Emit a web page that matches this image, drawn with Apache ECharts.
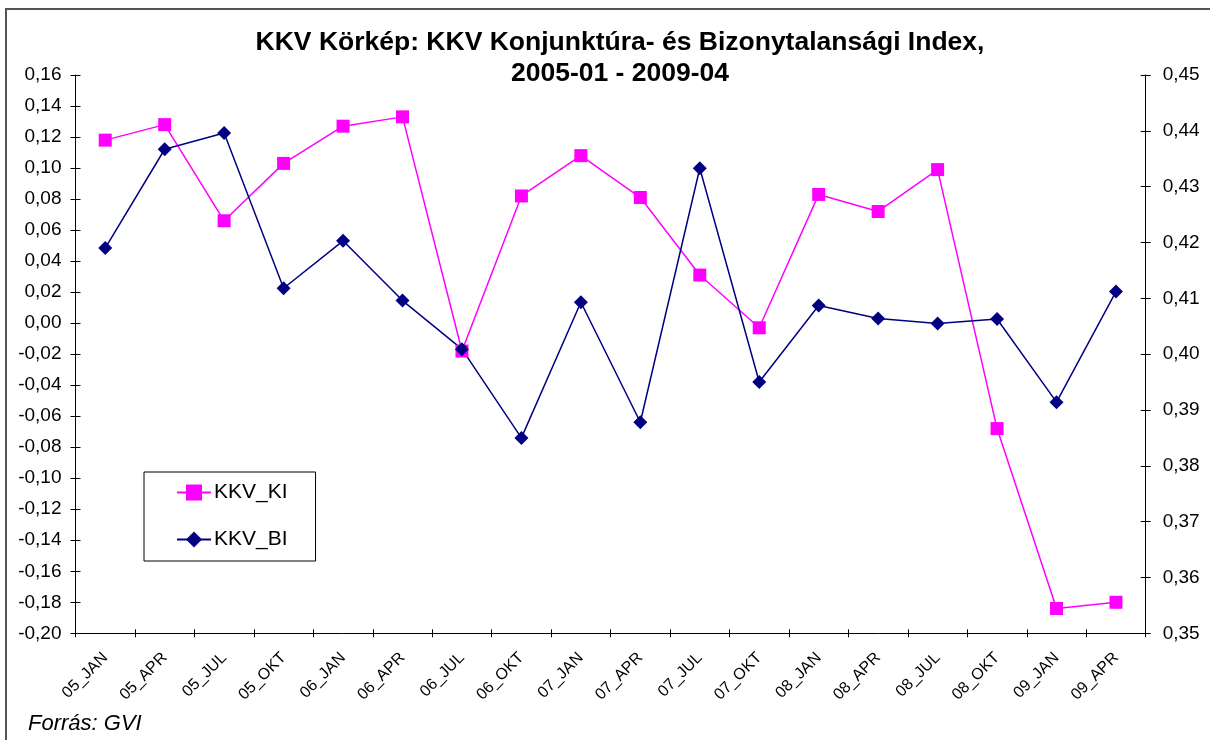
<!DOCTYPE html>
<html>
<head>
<meta charset="utf-8">
<script src="https://cdn.jsdelivr.net/npm/echarts@6/dist/echarts.min.js"></script>
<style>
html,body{margin:0;padding:0;background:#fff;}
#chart{width:1210px;height:740px;}
</style>
</head>
<body>
<div id="chart"></div>
<script>
const categories = ['05_JAN','05_APR','05_JUL','05_OKT','06_JAN','06_APR','06_JUL','06_OKT','07_JAN','07_APR','07_JUL','07_OKT','08_JAN','08_APR','08_JUL','08_OKT','09_JAN','09_APR'];
const kkvKI = [0.118, 0.128, 0.066, 0.103, 0.127, 0.133, -0.018, 0.082, 0.108, 0.081, 0.031, -0.003, 0.083, 0.072, 0.099, -0.068, -0.184, -0.180];
const kkvBI = [0.419, 0.4367, 0.4396, 0.4118, 0.4203, 0.4096, 0.4009, 0.385, 0.4093, 0.3878, 0.4333, 0.395, 0.4087, 0.4064, 0.4055, 0.4063, 0.3914, 0.4112];
const titleLines = ['KKV Körkép: KKV Konjunktúra- és Bizonytalansági Index,', '2005-01 - 2009-04'];
const sourceText = 'Forrás: GVI';

const FONT = 'Liberation Sans, Arial, sans-serif';
const fmt = v => v.toFixed(2).replace('.', ',');
const chart = echarts.init(document.getElementById('chart'), null, {renderer: 'canvas'});
const grid = {left: 75.5, right: 64.3, top: 75, bottom: 106.7};

chart.setOption({
  backgroundColor: '#fff',
  animation: false,
  title: {
    text: titleLines.join('\n'),
    left: 620, top: 27, padding: 0,
    textAlign: 'center',
    textStyle: {fontFamily: FONT, fontSize: 26.5, fontWeight: 'bold', color: '#000', lineHeight: 31}
  },
  graphic: [
    {type: 'rect', shape: {x: 6, y: 9, width: 1230, height: 760}, style: {fill: 'none', stroke: '#555', lineWidth: 2}, silent: true},
    {type: 'text', left: 28, top: 713, style: {text: sourceText, fontFamily: FONT, fontSize: 22, fontStyle: 'italic', fill: '#000'}}
  ],
  legend: {
    orient: 'vertical', left: 144, top: 472,
    padding: [10, 28, 11, 32], itemGap: 26,
    itemWidth: 34, itemHeight: 20,
    backgroundColor: '#fff', borderColor: '#000', borderWidth: 1,
    textStyle: {fontFamily: FONT, fontSize: 21, color: '#000', padding: [0,0,0,-2]},
    data: ['KKV_KI', 'KKV_BI']
  },
  grid: grid,
  xAxis: [
    {
      type: 'category', data: categories, boundaryGap: true,
      axisLine: {onZero: false, lineStyle: {color: '#000', width: 1}},
      axisTick: {show: true, inside: false, length: 4, lineStyle: {color: '#000'}},
      axisLabel: {rotate: 45, margin: 22, fontFamily: FONT, fontSize: 16, color: '#000', interval: 0},
      splitLine: {show: false}
    },
    {
      type: 'category', data: categories, boundaryGap: true, position: 'bottom',
      axisLine: {show: false, onZero: false},
      axisTick: {show: true, inside: true, length: 4, lineStyle: {color: '#000'}},
      axisLabel: {show: false}, splitLine: {show: false}
    }
  ],
  yAxis: [
    {
      type: 'value', position: 'left', min: -0.2, max: 0.16, interval: 0.02,
      axisLine: {show: true, lineStyle: {color: '#000', width: 1}},
      axisTick: {show: true, inside: false, length: 5, lineStyle: {color: '#000'}},
      axisLabel: {formatter: fmt, margin: 14, fontFamily: FONT, fontSize: 19, color: '#000'},
      splitLine: {show: false}
    },
    {
      type: 'value', position: 'right', min: 0.35, max: 0.45, interval: 0.01,
      axisLine: {show: true, lineStyle: {color: '#000', width: 1}},
      axisTick: {show: true, inside: false, length: 5, lineStyle: {color: '#000'}},
      axisLabel: {formatter: fmt, margin: 17, fontFamily: FONT, fontSize: 19, color: '#000'},
      splitLine: {show: false}
    },
    {
      type: 'value', position: 'left', min: -0.2, max: 0.16, interval: 0.02,
      axisLine: {show: false},
      axisTick: {show: true, inside: true, length: 5, lineStyle: {color: '#000'}},
      axisLabel: {show: false}, splitLine: {show: false}
    },
    {
      type: 'value', position: 'right', min: 0.35, max: 0.45, interval: 0.01,
      axisLine: {show: false},
      axisTick: {show: true, inside: true, length: 5, lineStyle: {color: '#000'}},
      axisLabel: {show: false}, splitLine: {show: false}
    }
  ],
  series: [
    {
      name: 'KKV_KI', type: 'line', xAxisIndex: 0, yAxisIndex: 0, data: kkvKI,
      symbol: 'rect', symbolSize: 13, showAllSymbol: true,
      itemStyle: {color: '#FF00FF'},
      lineStyle: {color: '#FF00FF', width: 1.5}
    },
    {
      name: 'KKV_BI', type: 'line', xAxisIndex: 0, yAxisIndex: 1, data: kkvBI,
      symbol: 'diamond', symbolSize: 14, showAllSymbol: true,
      itemStyle: {color: '#000080'},
      lineStyle: {color: '#000080', width: 1.5}
    }
  ]
});
</script>
</body>
</html>
